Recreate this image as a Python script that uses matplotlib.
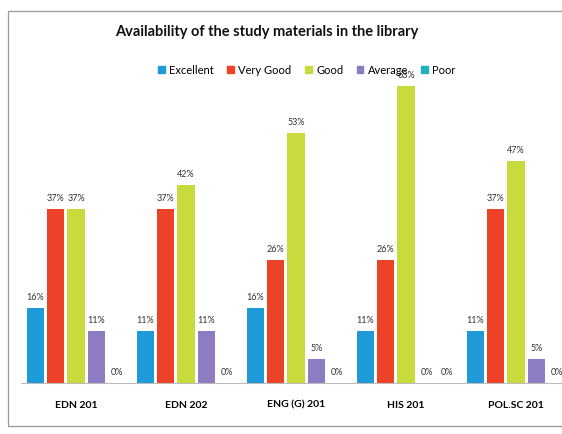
import numpy as np
import matplotlib.pyplot as plt
from matplotlib.patches import Patch, Rectangle

courses = ["EDN 201", "EDN 202", "ENG (G) 201", "HIS 201", "POL.SC 201"]
ratings = ["Excellent", "Very Good", "Good", "Average", "Poor"]
excellent = [16, 11, 16, 11, 11]
very_good = [37, 37, 26, 26, 37]
good = [37, 42, 53, 63, 47]
average = [11, 11, 5, 0, 5]
poor = [0, 0, 0, 0, 0]
series = [excellent, very_good, good, average, poor]
colors = ["#1f9ad8", "#ec4328", "#c9da3c", "#8d7cc4", "#22b0c0"]

plt.rcParams['font.family'] = ['Lato', 'DejaVu Sans']

fig = plt.figure(figsize=(5.62, 4.35), dpi=100)
fig.patch.set_facecolor('white')

# chart frame (like the excel chart area border)
fig.patches.append(Rectangle((8 / 562, 8 / 435), 1.2, 415 / 435, transform=fig.transFigure,
                             fill=False, ec='#9a9a9a', lw=0.9))

ax = fig.add_axes([21 / 562, 51 / 435, 550 / 562, 330 / 435])
x = np.arange(len(courses))
pitch = 0.186
width = 0.155
for i, (vals, c) in enumerate(zip(series, colors)):
    pos = x + (i - 2) * pitch
    ax.bar(pos, vals, width, color=c, linewidth=0, label=ratings[i])
    for xp, v in zip(pos, vals):
        ax.annotate(f"{v}%", (xp, v), xytext=(0, 5), textcoords='offset points',
                    ha='center', va='bottom', fontsize=6.5, color='#333333')

ax.set_xlim(-0.5, 4.5)
ax.set_ylim(0, 70)
ax.set_yticks([])
ax.set_xticks(x)
ax.set_xticklabels(courses, fontweight='bold', fontsize=7.5)
ax.tick_params(axis='x', length=0, pad=12)
for sp in ('left', 'right', 'top'):
    ax.spines[sp].set_visible(False)
ax.spines['bottom'].set_color('#bbbbbb')
ax.spines['bottom'].set_linewidth(0.8)

fig.text(267 / 562, 1 - 32 / 435, "Availability of the study materials in the library",
         ha='center', va='center', fontsize=10.5, fontweight='bold', color='#111111')

handles = [Patch(color=c, label=r) for r, c in zip(ratings, colors)]
fig.legend(handles=handles, loc='center', bbox_to_anchor=(307 / 562, 1 - 71 / 435), ncol=5,
           frameon=False, fontsize=8, handlelength=0.6, handleheight=0.6,
           handletextpad=0.4, columnspacing=1.2)

fig.savefig('out.png', dpi=100, facecolor='white')
